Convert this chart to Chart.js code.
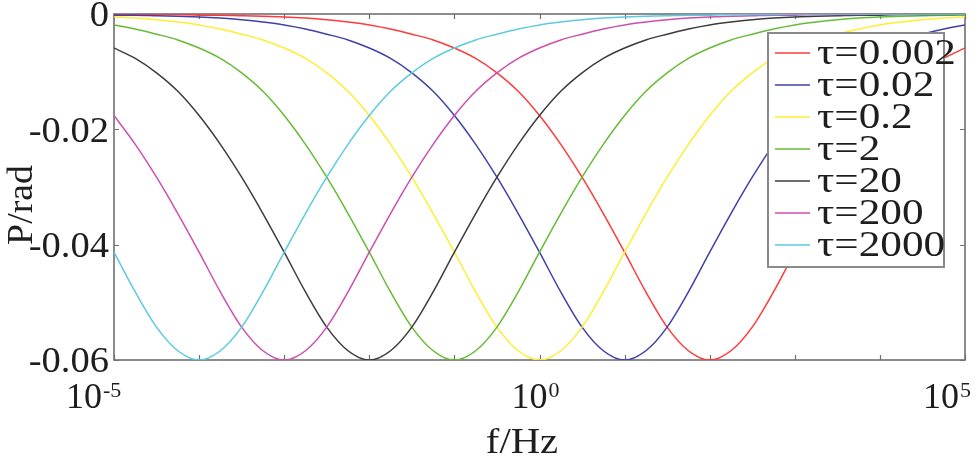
<!DOCTYPE html>
<html lang="en">
<head>
  <meta charset="UTF-8" />
  <title>Phase vs frequency</title>
  <script src="https://cdn.jsdelivr.net/npm/chart.js@4"></script>
  <style>
    html,body{margin:0;padding:0;background:#fff;}
    #wrap{width:975px;height:458px;}
  </style>
</head>
<body>
  <div id="wrap"><canvas id="chart" width="975" height="458"></canvas></div>

  <script>
    /* ---- data ---- */
    // frequencies, quarter-decade steps, 1e-5 .. 1e5 Hz
    const freqs = [
      1e-5, 1.778e-5, 3.162e-5, 5.623e-5,
      1e-4, 1.778e-4, 3.162e-4, 5.623e-4,
      1e-3, 1.778e-3, 3.162e-3, 5.623e-3,
      1e-2, 1.778e-2, 3.162e-2, 5.623e-2,
      1e-1, 1.778e-1, 3.162e-1, 5.623e-1,
      1,    1.778,    3.162,    5.623,
      1e1,  1.778e1,  3.162e1,  5.623e1,
      1e2,  1.778e2,  3.162e2,  5.623e2,
      1e3,  1.778e3,  3.162e3,  5.623e3,
      1e4,  1.778e4,  3.162e4,  5.623e4,
      1e5
    ];

    const tauLabels = ["τ=0.002","τ=0.02","τ=0.2","τ=2","τ=20","τ=200","τ=2000"];

    const phaseTau0002 = [
      0,-0.0001,-0.0001,-0.0001,-0.0002,-0.0002,-0.0003,-0.0004,-0.0005,-0.0007,
      -0.0010,-0.0014,-0.0019,-0.0026,-0.0035,-0.0045,-0.0059,-0.0077,-0.0102,-0.0134,
      -0.0176,-0.0226,-0.0283,-0.0346,-0.0413,-0.0482,-0.0543,-0.0584,-0.0600,
      -0.0584,-0.0543,-0.0482,-0.0413,-0.0346,-0.0283,-0.0226,-0.0176,-0.0134,-0.0102,-0.0077,-0.0059
    ];
    const phaseTau002 = [
      -0.0002,-0.0002,-0.0003,-0.0004,-0.0005,-0.0007,-0.0010,-0.0014,-0.0019,-0.0026,
      -0.0035,-0.0045,-0.0059,-0.0077,-0.0102,-0.0134,-0.0176,-0.0226,-0.0283,-0.0346,
      -0.0413,-0.0482,-0.0543,-0.0584,-0.0600,
      -0.0584,-0.0543,-0.0482,-0.0413,-0.0346,-0.0283,-0.0226,-0.0176,-0.0134,-0.0102,
      -0.0077,-0.0059,-0.0045,-0.0035,-0.0026,-0.0019
    ];
    const phaseTau02 = [
      -0.0005,-0.0007,-0.0010,-0.0014,-0.0019,-0.0026,-0.0035,-0.0045,-0.0059,-0.0077,
      -0.0102,-0.0134,-0.0176,-0.0226,-0.0283,-0.0346,-0.0413,-0.0482,-0.0543,-0.0584,
      -0.0600,
      -0.0584,-0.0543,-0.0482,-0.0413,-0.0346,-0.0283,-0.0226,-0.0176,-0.0134,-0.0102,
      -0.0077,-0.0059,-0.0045,-0.0035,-0.0026,-0.0019,-0.0014,-0.0010,-0.0007,-0.0005
    ];
    const phaseTau2 = [
      -0.0019,-0.0026,-0.0035,-0.0045,-0.0059,-0.0077,-0.0102,-0.0134,-0.0176,-0.0226,
      -0.0283,-0.0346,-0.0413,-0.0482,-0.0543,-0.0584,-0.0600,
      -0.0584,-0.0543,-0.0482,-0.0413,-0.0346,-0.0283,-0.0226,-0.0176,-0.0134,-0.0102,
      -0.0077,-0.0059,-0.0045,-0.0035,-0.0026,-0.0019,-0.0014,-0.0010,-0.0007,-0.0005,
      -0.0004,-0.0003,-0.0002,-0.0002
    ];
    const phaseTau20 = [
      -0.0059,-0.0077,-0.0102,-0.0134,-0.0176,-0.0226,-0.0283,-0.0346,-0.0413,-0.0482,
      -0.0543,-0.0584,-0.0600,
      -0.0584,-0.0543,-0.0482,-0.0413,-0.0346,-0.0283,-0.0226,-0.0176,-0.0134,-0.0102,
      -0.0077,-0.0059,-0.0045,-0.0035,-0.0026,-0.0019,-0.0014,-0.0010,-0.0007,-0.0005,
      -0.0004,-0.0003,-0.0002,-0.0002,-0.0001,-0.0001,-0.0001,0
    ];
    const phaseTau200 = [
      -0.0176,-0.0226,-0.0283,-0.0346,-0.0413,-0.0482,-0.0543,-0.0584,-0.0600,
      -0.0584,-0.0543,-0.0482,-0.0413,-0.0346,-0.0283,-0.0226,-0.0176,-0.0134,-0.0102,
      -0.0077,-0.0059,-0.0045,-0.0035,-0.0026,-0.0019,-0.0014,-0.0010,-0.0007,-0.0005,
      -0.0004,-0.0003,-0.0002,-0.0002,-0.0001,-0.0001,-0.0001,0,0,0,0,0
    ];
    const phaseTau2000 = [
      -0.0413,-0.0482,-0.0543,-0.0584,-0.0600,
      -0.0584,-0.0543,-0.0482,-0.0413,-0.0346,-0.0283,-0.0226,-0.0176,-0.0134,-0.0102,
      -0.0077,-0.0059,-0.0045,-0.0035,-0.0026,-0.0019,-0.0014,-0.0010,-0.0007,-0.0005,
      -0.0004,-0.0003,-0.0002,-0.0002,-0.0001,-0.0001,-0.0001,0,0,0,0,0,0,0,0,0
    ];

    const yTicks = [0, -0.02, -0.04, -0.06];
    const yTickLabels = ["0", "-0.02", "-0.04", "-0.06"];
    const xTicks = [1e-5,1e-4,1e-3,1e-2,1e-1,1,1e1,1e2,1e3,1e4,1e5];
    const xLabelVals = [1e-5, 1, 1e5];
    const xLabelExps = ["-5", "0", "5"];

    /* ---- styling ---- */
    const series = [phaseTau0002, phaseTau002, phaseTau02, phaseTau2, phaseTau20, phaseTau200, phaseTau2000];
    const colors = ["#ff3a3a","#4040a8","#ffee30","#66bb33","#3c3c3c","#cc4fae","#5ccbde"];
    const xLabelShift = [-48, -28, -42];   // left edge of "10" relative to tick
    const FONT = '"Liberation Serif", "Times New Roman", serif';
    const TXT = "#1e1e1e";

    // text with a horizontal stretch (the source figure's glyphs run wide)
    function wideText(ctx, s, x, y, sx){
      ctx.save();
      ctx.translate(x, y);
      ctx.scale(sx, 1);
      ctx.fillText(s, 0, 0);
      ctx.restore();
    }

    /* ---- axes box, ticks, labels, legend ---- */
    const matlabAxes = {
      id: "matlabAxes",
      beforeDatasetsDraw(chart){
        const {ctx, chartArea:a, scales:{x, y}} = chart;
        ctx.save();
        ctx.strokeStyle = "#707070";
        ctx.lineWidth = 1.6;
        ctx.strokeRect(a.left, a.top, a.right - a.left, a.bottom - a.top);

        // inward ticks
        ctx.lineWidth = 1.2;
        ctx.beginPath();
        xTicks.forEach(v=>{
          const px = Math.round(x.getPixelForValue(v)) + .5;
          ctx.moveTo(px, a.bottom); ctx.lineTo(px, a.bottom - 5);
          ctx.moveTo(px, a.top);    ctx.lineTo(px, a.top + 5);
        });
        yTicks.forEach(v=>{
          const py = Math.round(y.getPixelForValue(v)) + .5;
          ctx.moveTo(a.left, py);  ctx.lineTo(a.left + 5, py);
          ctx.moveTo(a.right, py); ctx.lineTo(a.right - 5, py);
        });
        ctx.stroke();

        ctx.fillStyle = TXT;
        // y tick labels
        ctx.font = "36px " + FONT;
        ctx.textAlign = "right";
        ctx.textBaseline = "middle";
        yTicks.forEach((v,i)=>{
          wideText(ctx, yTickLabels[i], a.left - 5, y.getPixelForValue(v) + 3, 1.07);
        });

        // x tick labels: 10^n
        ctx.textAlign = "left";
        ctx.textBaseline = "alphabetic";
        xLabelVals.forEach((v,i)=>{
          const px = x.getPixelForValue(v) + xLabelShift[i];
          ctx.font = "36px " + FONT;
          ctx.fillText("10", px, 408);
          const w = ctx.measureText("10").width;
          ctx.font = "22px " + FONT;
          ctx.fillText(xLabelExps[i], px + w + 1, 397);
        });

        // axis titles
        ctx.font = "36px " + FONT;
        ctx.textAlign = "center";
        wideText(ctx, "f/Hz", 522, 453, 1.13);
        ctx.translate(32, 205);
        ctx.rotate(-Math.PI/2);
        wideText(ctx, "P/rad", 0, 0, 1.05);
        ctx.restore();
      },
      afterDatasetsDraw(chart){
        const {ctx} = chart;
        ctx.save();
        ctx.fillStyle = "#fff";
        ctx.fillRect(768, 33, 176, 234);
        ctx.strokeStyle = "#8a8a8a";
        ctx.lineWidth = 2;
        ctx.strokeRect(768, 33, 176, 234);
        ctx.font = "36px " + FONT;
        ctx.textAlign = "left";
        ctx.textBaseline = "middle";
        chart.data.datasets.forEach((ds, i)=>{
          const cy = 53 + i * 32;
          ctx.strokeStyle = ds.borderColor;
          ctx.lineWidth = 1.6;
          ctx.beginPath(); ctx.moveTo(775, cy); ctx.lineTo(810, cy); ctx.stroke();
          ctx.fillStyle = TXT;
          wideText(ctx, ds.label, 817, cy + 2, 1.2);
        });
        ctx.restore();
      }
    };

    new Chart(document.getElementById("chart"), {
      type: "line",
      data: {
        datasets: series.map((vals, j)=>({
          label: tauLabels[j],
          data: freqs.map((f, i)=>({x: f, y: vals[i]})),
          borderColor: colors[j],
          borderWidth: 1.5,
          pointRadius: 0,
          fill: false,
          cubicInterpolationMode: "monotone",
          order: series.length - j
        }))
      },
      options: {
        responsive: false,
        animation: false,
        layout: {padding: {left: 114, top: 14, right: 10, bottom: 98}},
        plugins: {legend: {display: false}, tooltip: {enabled: false}},
        scales: {
          x: {type: "logarithmic", min: 1e-5, max: 1e5, display: false},
          y: {min: -0.06, max: 0, display: false}
        }
      },
      plugins: [matlabAxes]
    });
  </script>
</body>
</html>
